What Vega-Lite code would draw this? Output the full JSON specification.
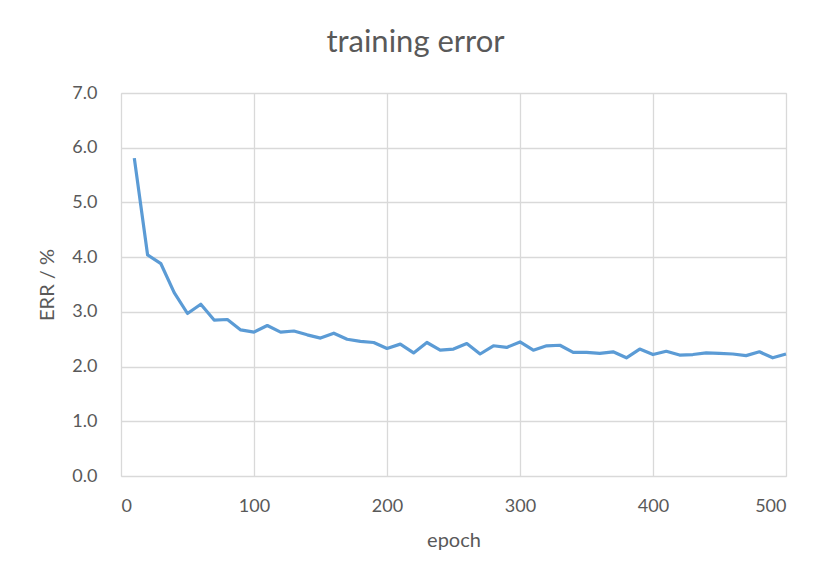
{
  "$schema": "https://vega.github.io/schema/vega-lite/v6.json",
  "autosize": "none",
  "width": 665,
  "height": 383,
  "padding": {"left": 121, "top": 93, "right": 44, "bottom": 111},
  "background": "white",
  "title": {
    "text": "training error",
    "fontSize": 31,
    "font": "Lato",
    "fontWeight": "normal",
    "color": "#595959",
    "offset": 25,
    "dx": -38
  },
  "config": {
    "view": {"stroke": "#d9d9d9", "strokeWidth": 1},
    "axis": {
      "labelFont": "Lato",
      "titleFont": "Lato",
      "labelFontSize": 18,
      "titleFontSize": 20,
      "labelColor": "#595959",
      "titleColor": "#595959",
      "titleFontWeight": "normal",
      "gridColor": "#d9d9d9",
      "gridWidth": 1.3,
      "domainColor": "#d9d9d9",
      "ticks": false,
      "gridOpacity": 1
    }
  },
  "data": {
    "values": [
      {"epoch": 10, "err": 5.81},
      {"epoch": 20, "err": 4.04},
      {"epoch": 30, "err": 3.88},
      {"epoch": 40, "err": 3.35},
      {"epoch": 50, "err": 2.97},
      {"epoch": 60, "err": 3.14},
      {"epoch": 70, "err": 2.85},
      {"epoch": 80, "err": 2.86},
      {"epoch": 90, "err": 2.67},
      {"epoch": 100, "err": 2.63},
      {"epoch": 110, "err": 2.75},
      {"epoch": 120, "err": 2.63},
      {"epoch": 130, "err": 2.65},
      {"epoch": 140, "err": 2.58},
      {"epoch": 150, "err": 2.52},
      {"epoch": 160, "err": 2.61},
      {"epoch": 170, "err": 2.5},
      {"epoch": 180, "err": 2.46},
      {"epoch": 190, "err": 2.44},
      {"epoch": 200, "err": 2.33},
      {"epoch": 210, "err": 2.41},
      {"epoch": 220, "err": 2.25},
      {"epoch": 230, "err": 2.44},
      {"epoch": 240, "err": 2.3},
      {"epoch": 250, "err": 2.32},
      {"epoch": 260, "err": 2.42},
      {"epoch": 270, "err": 2.23},
      {"epoch": 280, "err": 2.38},
      {"epoch": 290, "err": 2.35},
      {"epoch": 300, "err": 2.45},
      {"epoch": 310, "err": 2.3},
      {"epoch": 320, "err": 2.38},
      {"epoch": 330, "err": 2.39},
      {"epoch": 340, "err": 2.26},
      {"epoch": 350, "err": 2.26},
      {"epoch": 360, "err": 2.24},
      {"epoch": 370, "err": 2.27},
      {"epoch": 380, "err": 2.16},
      {"epoch": 390, "err": 2.32},
      {"epoch": 400, "err": 2.22},
      {"epoch": 410, "err": 2.28},
      {"epoch": 420, "err": 2.21},
      {"epoch": 430, "err": 2.22},
      {"epoch": 440, "err": 2.25},
      {"epoch": 450, "err": 2.24},
      {"epoch": 460, "err": 2.23},
      {"epoch": 470, "err": 2.2},
      {"epoch": 480, "err": 2.27},
      {"epoch": 490, "err": 2.16},
      {"epoch": 500, "err": 2.23}
    ]
  },
  "mark": {"type": "line", "color": "#5b9bd5", "strokeWidth": 3.2, "strokeJoin": "round"},
  "encoding": {
    "x": {
      "field": "epoch",
      "type": "quantitative",
      "scale": {"domain": [0, 500], "nice": false},
      "axis": {"values": [0, 100, 200, 300, 400, 500], "title": "epoch", "labelPadding": 21, "titlePadding": 15, "domain": false}
    },
    "y": {
      "field": "err",
      "type": "quantitative",
      "scale": {"domain": [0, 7], "nice": false},
      "axis": {"values": [0, 1, 2, 3, 4, 5, 6, 7], "format": ".1f", "title": "ERR / %", "labelPadding": 24, "titlePadding": 14, "domain": false}
    }
  }
}
